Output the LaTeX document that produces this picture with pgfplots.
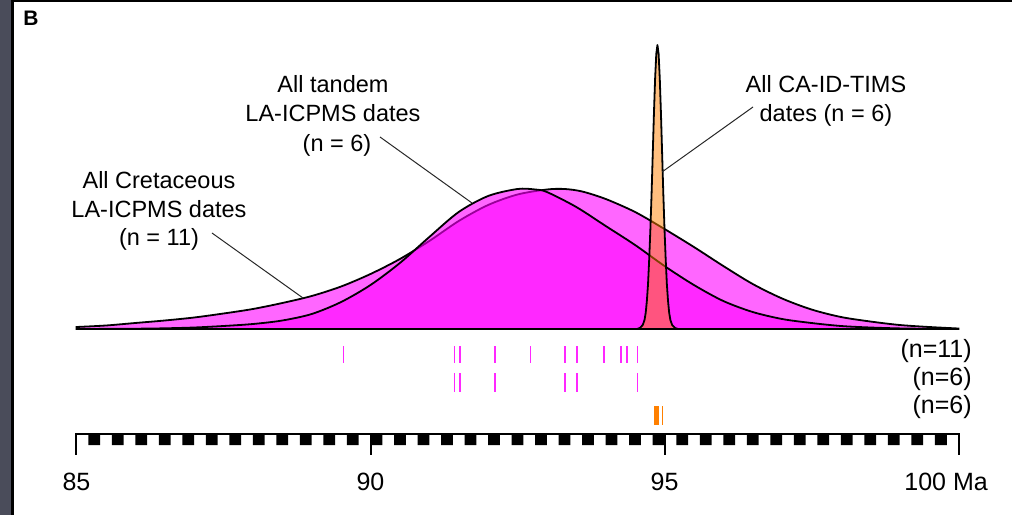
\documentclass[border=0pt]{standalone}
\usepackage{pgfplots}
\pgfplotsset{compat=1.18}
\usepackage{fontspec}
\setmainfont{Liberation Sans}
\definecolor{mag}{RGB}{255,0,255}
\definecolor{tickmag}{RGB}{255,40,255}
\definecolor{orng}{RGB}{255,128,0}
\definecolor{stripgray}{RGB}{74,76,90}
\definecolor{leader}{RGB}{40,40,40}
\begin{document}
\begin{tikzpicture}
\begin{axis}[x=29.4pt, y=0.5pt, xmin=83.699, xmax=100.910, ymin=-186, ymax=329,
  hide axis, clip=false, unbounded coords=jump]
% frame of the panel
\fill[white] (axis cs:83.699,-186) rectangle (axis cs:100.910,329);
\fill[stripgray] (axis cs:83.699,-186) rectangle (axis cs:83.886,329);
\fill[black] (axis cs:83.886,-186) rectangle (axis cs:83.937,329);
\fill[black] (axis cs:83.886,327) rectangle (axis cs:100.910,329);
\node[anchor=base west, inner sep=0pt, font=\fontsize{10.5}{12}\selectfont\bfseries] at (axis cs:84.09,303) {B};

% All Cretaceous LA-ICPMS dates (n = 11)
\addplot[smooth, fill=mag, fill opacity=0.6, draw=black, line width=0.9pt] coordinates {
(85.0,2)(85.5,3.5)(86.0,6)(86.5,8.5)(87.0,11.5)(87.5,15.5)(88.0,20)(88.5,26)(89.0,33)(89.5,42.5)
(90.0,55)(90.5,70)(91.0,88)(91.5,108)(92.0,124)(92.5,134.5)(93.0,139.5)(93.3,140)(93.6,137.5)
(94.0,130)(94.5,117)(95.0,100)(95.5,82)(96.0,63)(96.5,45)(97.0,30.5)(97.5,19.5)(98.0,12)
(98.5,7.5)(99.0,4)(99.5,2)(100.0,0.5)} \closedcycle;

% All tandem LA-ICPMS dates (n = 6)
\addplot[smooth, fill=mag, fill opacity=0.6, draw=black, line width=0.9pt] coordinates {
(85.0,0)(86.0,0.3)(86.5,0.7)(87.0,1.5)(87.5,3)(88.0,5)(88.5,8.5)(89.0,15)(89.5,27)(90.0,44)
(90.5,66)(91.0,92)(91.5,117)(92.0,133)(92.5,140)(92.8,139.5)(93.0,137)(93.5,122)(94.0,103)
(94.5,84)(95.0,63)(95.5,44)(96.0,28)(96.5,17)(97.0,10)(97.5,6)(98.0,3)(98.5,1.5)(99.0,0.6)
(99.5,0.2)(100.0,0)} \closedcycle;

% All CA-ID-TIMS dates (n = 6)
\addplot[fill=orng, fill opacity=0.5, draw=black, line width=0.9pt, line join=round] coordinates {
(94.53,0)(94.58,1)(94.63,4)(94.66,9)(94.68,16)(94.70,28)(94.72,45)(94.74,70)(94.76,100)
(94.78,135)(94.80,175)(94.82,215)(94.84,250)(94.86,275)(94.88,284)(94.90,275)(94.92,250)
(94.94,215)(94.96,175)(94.98,135)(95.00,100)(95.02,70)(95.04,45)(95.06,28)(95.08,16)
(95.10,9)(95.13,4)(95.18,1)(95.23,0)} \closedcycle;

% baseline
\addplot[black, line width=1.2pt] coordinates {(85,0)(100,0)};

% leader lines
\addplot[leader, line width=0.5pt] coordinates {(87.304,96)(88.852,31)};
\addplot[leader, line width=0.5pt] coordinates {(90.162,192)(91.726,126)};
\addplot[leader, line width=0.5pt] coordinates {(96.505,222)(94.957,157)};

% labels
\begin{scope}[every node/.style={inner sep=0pt, anchor=base, font=\fontsize{11.75}{14}\selectfont}]
\node at (axis cs:86.403,141) {All Cretaceous};
\node at (axis cs:86.403,112) {LA-ICPMS dates};
\node at (axis cs:86.403,84) {(n = 11)};
\node at (axis cs:89.362,236) {All tandem};
\node at (axis cs:89.362,207) {LA-ICPMS dates};
\node at (axis cs:89.43,178) {(n = 6)};
\node at (axis cs:97.746,236) {All CA-ID-TIMS};
\node at (axis cs:97.746,207) {dates (n = 6)};
\end{scope}

% individual dates (each a short vertical stroke)
\addplot[tickmag, line width=0.85pt] coordinates {
(89.54,-17)(89.54,-34)(89.54,nan)
(91.43,-17)(91.43,-34)(91.43,nan)
(91.52,-17)(91.52,-34)(91.52,nan)
(92.12,-17)(92.12,-34)(92.12,nan)
(92.72,-17)(92.72,-34)(92.72,nan)
(93.31,-17)(93.31,-34)(93.31,nan)
(93.51,-17)(93.51,-34)(93.51,nan)
(93.97,-17)(93.97,-34)(93.97,nan)
(94.26,-17)(94.26,-34)(94.26,nan)
(94.36,-17)(94.36,-34)(94.36,nan)
(94.54,-17)(94.54,-34)};
\addplot[tickmag, line width=0.85pt] coordinates {
(91.43,-44)(91.43,-63)(91.43,nan)
(91.52,-44)(91.52,-63)(91.52,nan)
(92.12,-44)(92.12,-63)(92.12,nan)
(93.31,-44)(93.31,-63)(93.31,nan)
(93.51,-44)(93.51,-63)(93.51,nan)
(94.54,-44)(94.54,-63)};
\addplot[orng, line width=0.6pt] coordinates {
(94.84,-77)(94.84,-96)(94.84,nan)
(94.85,-77)(94.85,-96)(94.85,nan)
(94.86,-77)(94.86,-96)(94.86,nan)
(94.88,-77)(94.88,-96)(94.88,nan)
(94.90,-77)(94.90,-96)(94.90,nan)
(94.96,-77)(94.96,-96)};

\begin{scope}[every node/.style={inner sep=0pt, anchor=base east, font=\fontsize{12.5}{15}\selectfont}]
\node at (axis cs:100.23,-28) {(n=11)};
\node at (axis cs:100.23,-56) {(n=6)};
\node at (axis cs:100.23,-84) {(n=6)};
\end{scope}

% time bar
\addplot[const plot, fill=black, draw=none] coordinates {
(85,-105)
(85.2,-116)(85.4,-105)(85.6,-116)(85.8,-105)(86.0,-116)(86.2,-105)(86.4,-116)(86.6,-105)
(86.8,-116)(87.0,-105)(87.2,-116)(87.4,-105)(87.6,-116)(87.8,-105)(88.0,-116)(88.2,-105)
(88.4,-116)(88.6,-105)(88.8,-116)(89.0,-105)(89.2,-116)(89.4,-105)(89.6,-116)(89.8,-105)
(90.0,-116)(90.2,-105)(90.4,-116)(90.6,-105)(90.8,-116)(91.0,-105)(91.2,-116)(91.4,-105)
(91.6,-116)(91.8,-105)(92.0,-116)(92.2,-105)(92.4,-116)(92.6,-105)(92.8,-116)(93.0,-105)
(93.2,-116)(93.4,-105)(93.6,-116)(93.8,-105)(94.0,-116)(94.2,-105)(94.4,-116)(94.6,-105)
(94.8,-116)(95.0,-105)(95.2,-116)(95.4,-105)(95.6,-116)(95.8,-105)(96.0,-116)(96.2,-105)
(96.4,-116)(96.6,-105)(96.8,-116)(97.0,-105)(97.2,-116)(97.4,-105)(97.6,-116)(97.8,-105)
(98.0,-116)(98.2,-105)(98.4,-116)(98.6,-105)(98.8,-116)(99.0,-105)(99.2,-116)(99.4,-105)
(99.6,-116)(99.8,-105)
(100,-105)};
\addplot[black, line width=1pt] coordinates {(85,-105)(100,-105)};
\addplot[black, line width=1pt] coordinates {(85,-104)(85,-126)};
\addplot[black, line width=1pt] coordinates {(90,-105)(90,-126)};
\addplot[black, line width=1pt] coordinates {(95,-105)(95,-126)};
\addplot[black, line width=1pt] coordinates {(100,-104)(100,-126)};

\begin{scope}[every node/.style={inner sep=0pt, font=\fontsize{12.5}{15}\selectfont}]
\node[anchor=base] at (axis cs:85,-161) {85};
\node[anchor=base] at (axis cs:90,-161) {90};
\node[anchor=base] at (axis cs:95,-161) {95};
\node[anchor=base west] at (axis cs:99.073,-161) {100 Ma};
\end{scope}
\end{axis}
\end{tikzpicture}
\end{document}
